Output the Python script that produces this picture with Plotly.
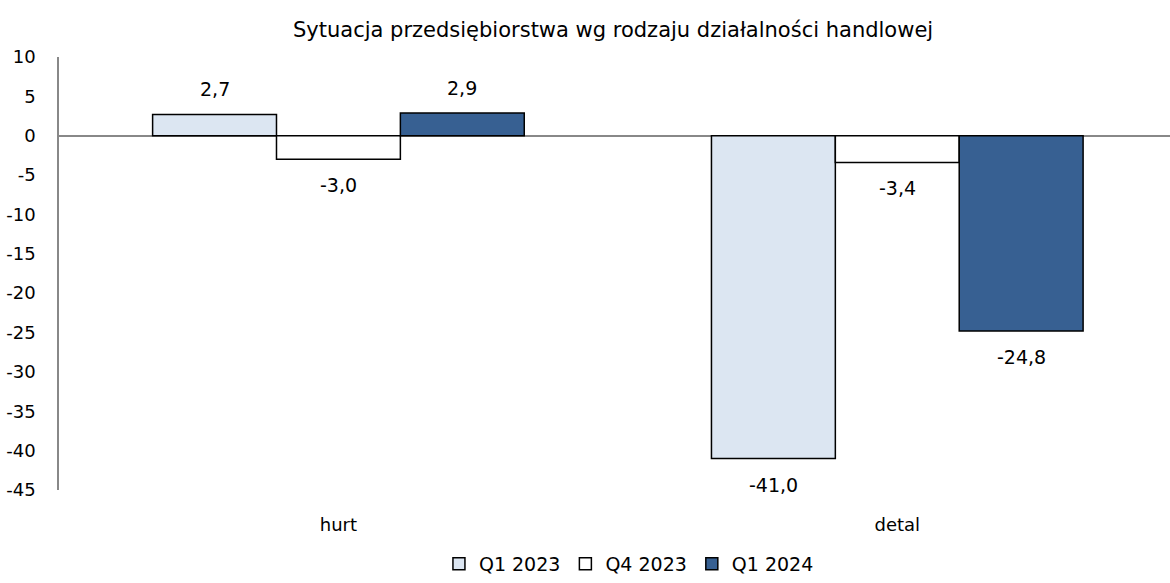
import plotly.graph_objects as go

categories = ["hurt", "detal"]
series_names = ["Q1 2023", "Q4 2023", "Q1 2024"]
q1_2023 = [2.7, -41.0]
q4_2023 = [-3.0, -3.4]
q1_2024 = [2.9, -24.8]
y_ticks = [10, 5, 0, -5, -10, -15, -20, -25, -30, -35, -40, -45]

colors = ["#DCE6F2", "#FFFFFF", "#376092"]
FONT = "DejaVu Sans"
FS = 19
BARGAP = 0.335

fig = go.Figure()
all_series = [q1_2023, q4_2023, q1_2024]
for name, vals, col in zip(series_names, all_series, colors):
    fig.add_trace(go.Bar(
        x=categories, y=vals, name=name,
        marker=dict(color=col, line=dict(color="#000000", width=1.5)),
        cliponaxis=False,
    ))

# data labels placed at each bar's end (data coordinates)
n = len(all_series)
bar_w = (1 - BARGAP) / n
annotations = []
for i, vals in enumerate(all_series):
    off = (i - (n - 1) / 2) * bar_w
    for ci, v in enumerate(vals):
        annotations.append(dict(
            x=ci + off, y=v, xref="x", yref="y",
            text=f"{v:.1f}".replace(".", ","), showarrow=False,
            yshift=25 if v >= 0 else -26,
            font=dict(family=FONT, size=FS, color="#000000"),
        ))

fig.update_layout(
    width=1170, height=583,
    barmode="group", bargap=BARGAP, bargroupgap=0,
    plot_bgcolor="white", paper_bgcolor="white",
    font=dict(family=FONT, size=FS, color="#000000"),
    margin=dict(l=59, r=0, t=57, b=93),
    title=dict(text="Sytuacja przedsiębiorstwa wg rodzaju działalności handlowej",
               x=0.524, xanchor="center", y=0.95, yanchor="middle",
               font=dict(family=FONT, size=21, color="#000000")),
    legend=dict(orientation="h", x=0.513, xanchor="center", y=-0.172, yanchor="middle",
                font=dict(family=FONT, size=FS), traceorder="normal",
                itemwidth=30),
    showlegend=True,
    annotations=annotations,
)
fig.update_xaxes(range=[-0.5, 1.488], showline=False, ticks="", showgrid=False,
                 automargin=False, ticklabelstandoff=22,
                 tickfont=dict(family=FONT, size=18))
fig.update_yaxes(range=[-45, 10], tickvals=y_ticks,
                 ticktext=[str(t) for t in y_ticks],
                 showgrid=False, showline=True, linecolor="#888888", linewidth=1.5,
                 zeroline=True, zerolinecolor="#888888", zerolinewidth=1.5,
                 ticks="", ticklabelstandoff=18, automargin=False,
                 tickfont=dict(family=FONT, size=18))

fig.write_html("out.html", config={"displayModeBar": False},
               post_script="document.body.style.margin='0';document.body.style.padding='0';")
